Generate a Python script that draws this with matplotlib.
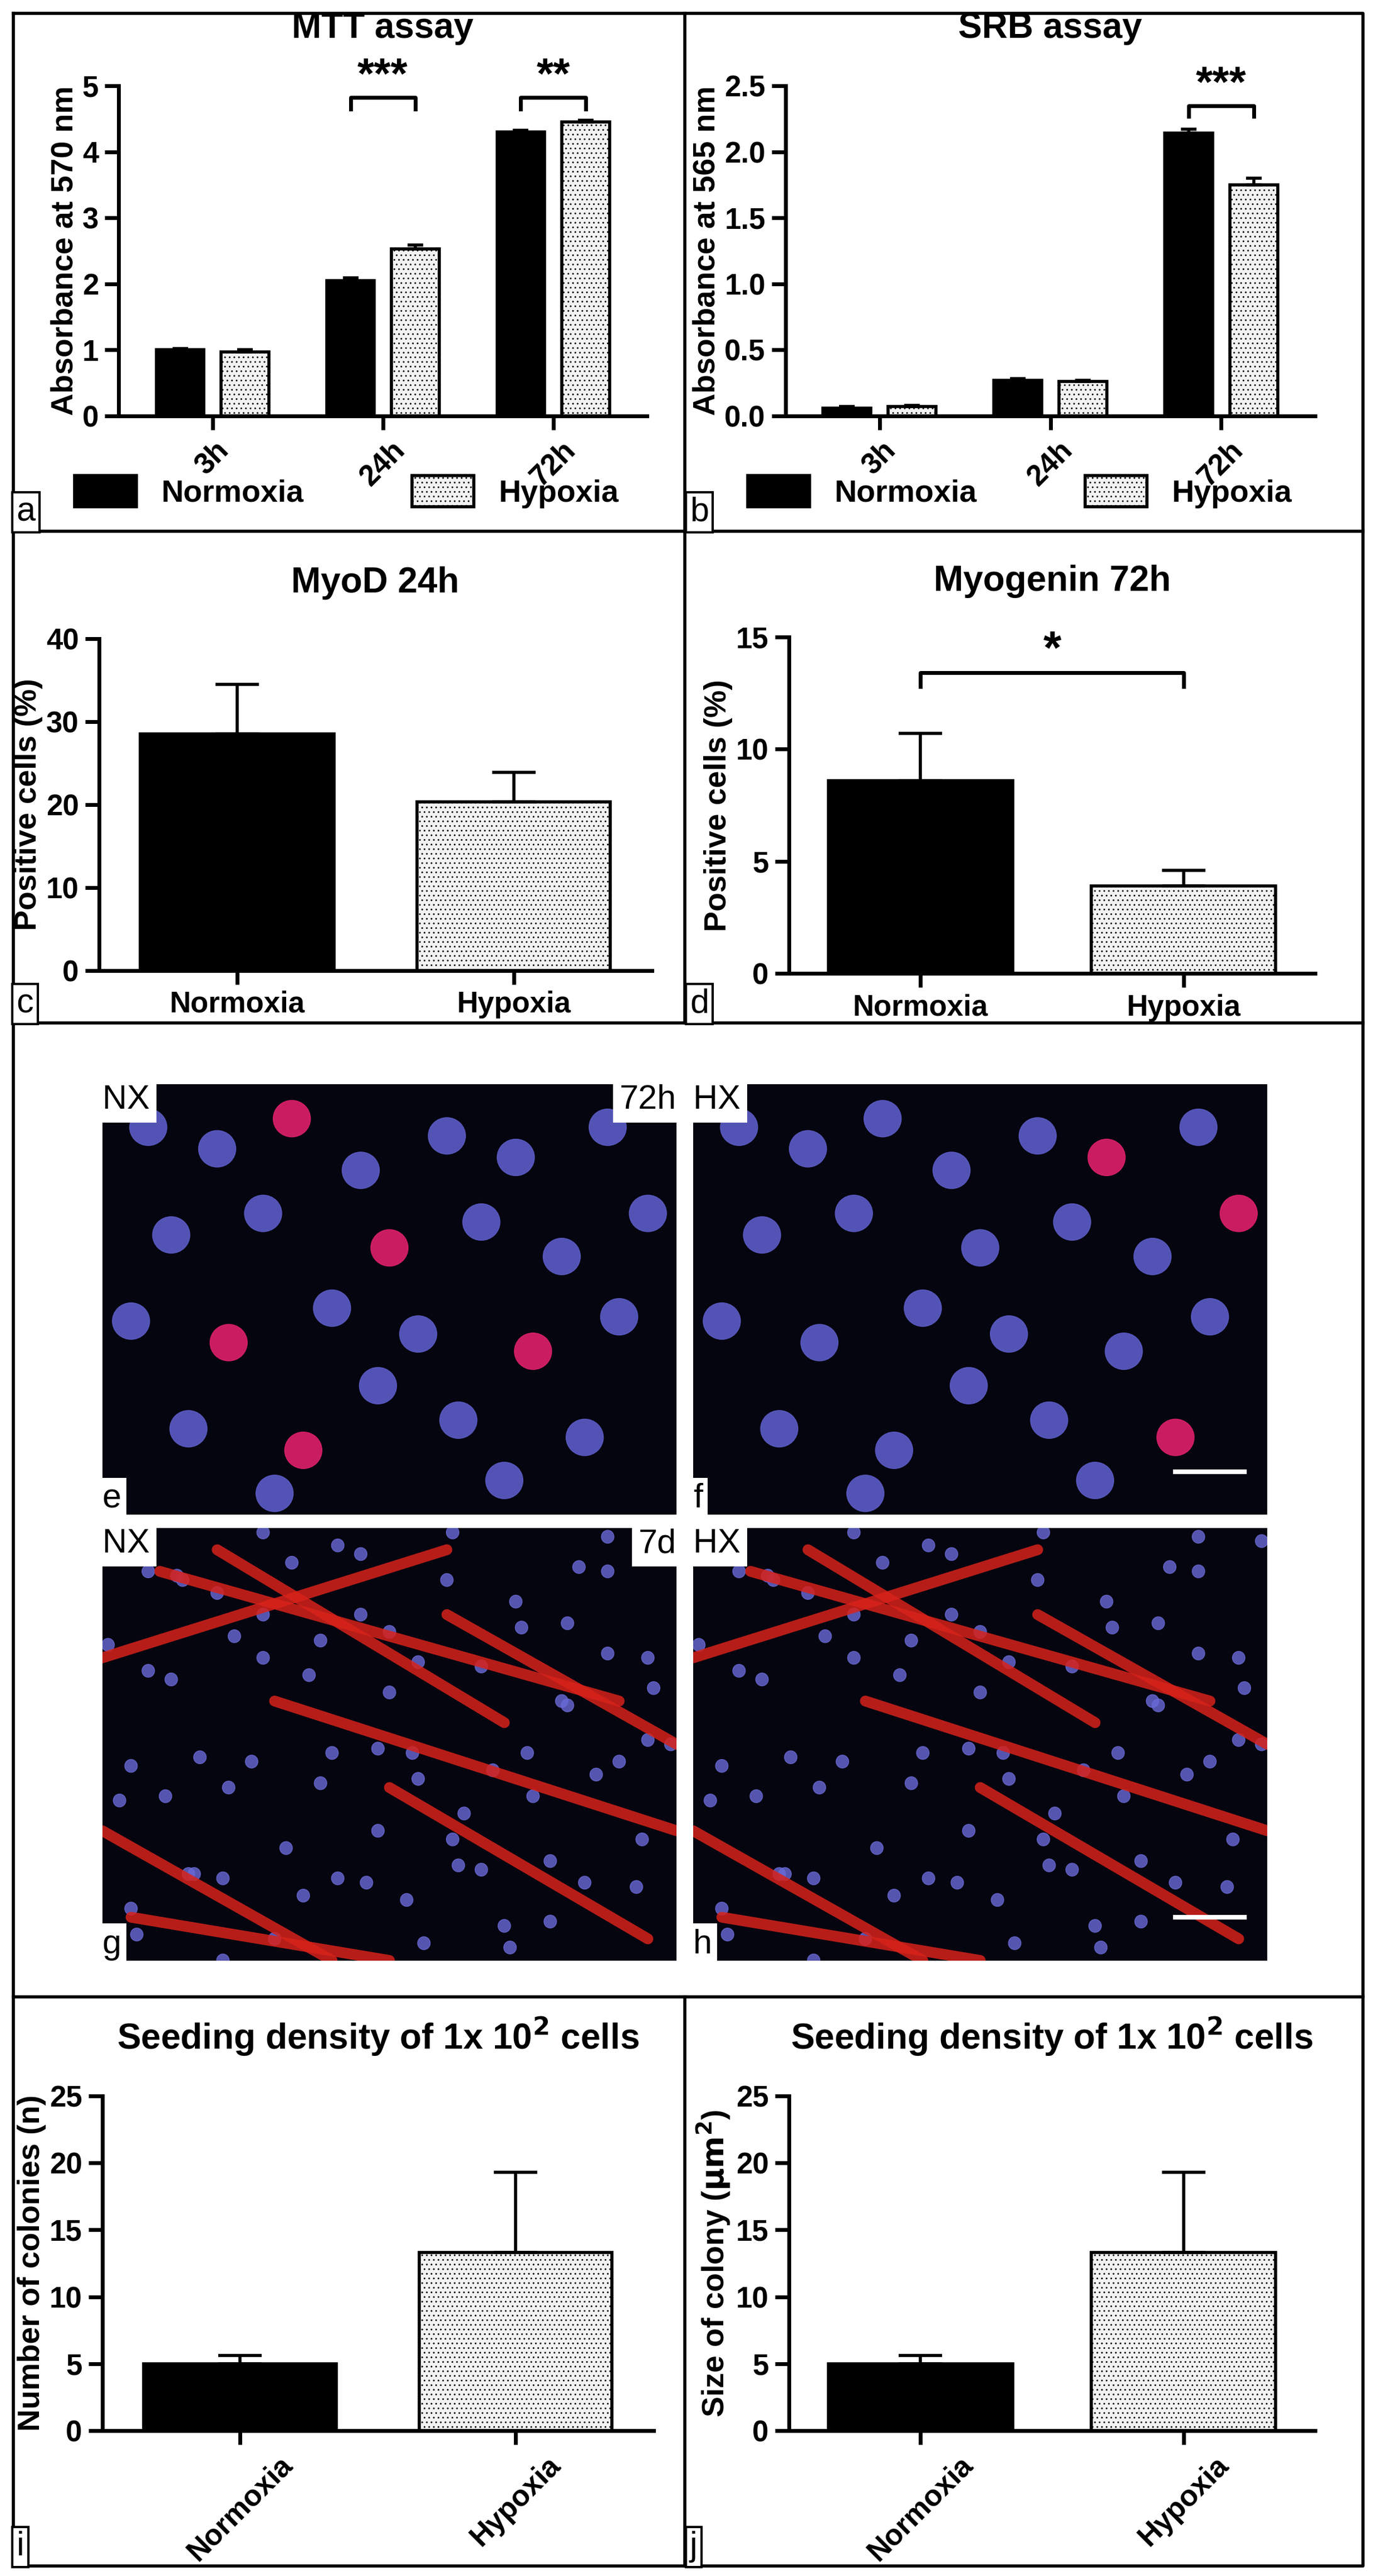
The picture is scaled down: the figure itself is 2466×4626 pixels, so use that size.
import matplotlib
matplotlib.use("Agg")
import matplotlib.pyplot as plt
from matplotlib.lines import Line2D
from matplotlib.patches import Ellipse, Patch
import numpy as np

plt.rcParams['font.family'] = ['Liberation Sans Narrow', 'Liberation Sans', 'DejaVu Sans']
plt.rcParams['font.weight'] = 'bold'
plt.rcParams['hatch.linewidth'] = 1.0
plt.rcParams['hatch.color'] = '#666666'

# ---------------- data ----------------
times = ['3h', '24h', '72h']
mtt_norm = [1.00, 2.05, 4.30]
mtt_norm_err = [0.02, 0.04, 0.03]
mtt_hyp = [0.97, 2.53, 4.45]
mtt_hyp_err = [0.03, 0.06, 0.03]
srb_norm = [0.06, 0.27, 2.14]
srb_norm_err = [0.01, 0.01, 0.03]
srb_hyp = [0.07, 0.26, 1.75]
srb_hyp_err = [0.01, 0.01, 0.05]
groups = ['Normoxia', 'Hypoxia']
myod = [28.5, 20.3]
myod_err = [6.0, 3.6]
myogenin = [8.6, 3.9]
myogenin_err = [2.1, 0.7]
colonies = [5.0, 13.3]
colonies_err = [0.6, 6.0]
colony_size = [5.0, 13.3]
colony_size_err = [0.6, 6.0]

W, H = 832.0, 1561.0
fig = plt.figure(figsize=(24.66, 46.26), dpi=100)

def rect(x0, x1, y0, y1):
    return [x0 / W, 1 - y1 / H, (x1 - x0) / W, (y1 - y0) / H]

def fline(xs, ys, lw=4):
    fig.add_artist(Line2D([x / W for x in xs], [1 - y / H for y in ys], color='black', lw=lw,
                          transform=fig.transFigure))

# borders
fline([8, 826, 826, 8, 8], [8, 8, 1555, 1555, 8])
for y in [322, 620, 1210]:
    fline([8, 826], [y, y])
fline([415, 415], [8, 620])
fline([415, 415], [1210, 1555])

def letter(x, y, s):
    fig.text(x / W, 1 - y / H, s, fontsize=44, fontweight='normal', ha='left', va='bottom',
             family='Liberation Sans',
             bbox=dict(boxstyle='square,pad=0.12', fc='white', ec='black', lw=3))

def style(ax):
    for sp in ['top', 'right']:
        ax.spines[sp].set_visible(False)
    for sp in ['left', 'bottom']:
        ax.spines[sp].set_linewidth(5)
    ax.tick_params(width=5, length=18, labelsize=38, pad=8)
    for t in ax.get_yticklabels() + ax.get_xticklabels():
        t.set_fontweight('bold')

def bracket(ax, x0, x1, y, h, txt, fs=56):
    ax.plot([x0, x0, x1, x1], [y - h, y, y, y - h], color='black', lw=5, clip_on=False)
    ax.text((x0 + x1) / 2, y, txt, ha='center', va='bottom', fontsize=fs, fontweight='bold')

def up(e):
    e = np.atleast_1d(e)
    return [np.zeros_like(e), e]

EK = dict(lw=4, capsize=10, capthick=4)

def grouped(ax, n, ne, hy, he, ylim, yticks, fmt, ylabel, title):
    x = np.arange(len(times))
    w = 0.28
    ax.bar(x - 0.19, n, w, yerr=up(ne), color='black', edgecolor='black', lw=4, error_kw=EK)
    ax.bar(x + 0.19, hy, w, yerr=up(he), color='#f2f2f2', edgecolor='black', lw=4, hatch='..', error_kw=EK)
    ax.set_xlim(-0.55, 2.55)
    ax.set_ylim(*ylim)
    ax.set_yticks(yticks)
    ax.set_yticklabels([fmt % v for v in yticks])
    ax.set_xticks(x)
    ax.set_xticklabels(times, rotation=45, ha='center', va='top')
    ax.set_ylabel(ylabel, fontsize=40, fontweight='bold')
    ax.set_title(title, fontsize=46, fontweight='bold', pad=62)
    style(ax)
    return x

# panel a
axa = fig.add_axes(rect(72, 392, 52, 252))
grouped(axa, mtt_norm, mtt_norm_err, mtt_hyp, mtt_hyp_err, (0, 5), [0, 1, 2, 3, 4, 5], '%d',
        'Absorbance at 570 nm', 'MTT assay')
bracket(axa, 1 - 0.19, 1 + 0.19, 4.82, 0.17, '***')
bracket(axa, 2 - 0.19, 2 + 0.19, 4.82, 0.17, '**')
# panel b
axb = fig.add_axes(rect(476, 797, 52, 252))
grouped(axb, srb_norm, srb_norm_err, srb_hyp, srb_hyp_err, (0, 2.5), [0, 0.5, 1.0, 1.5, 2.0, 2.5], '%.1f',
        'Absorbance at 565 nm', 'SRB assay')
bracket(axb, 2 - 0.19, 2 + 0.19, 2.35, 0.08, '***')

hN = Patch(facecolor='black', edgecolor='black', lw=4, label='Normoxia')
hH = Patch(facecolor='#f2f2f2', edgecolor='black', lw=4, hatch='..', label='Hypoxia')
for cx in [210, 618]:
    fig.legend(handles=[hN, hH], loc='center', bbox_to_anchor=(cx / W, 1 - 298 / H), ncol=2,
               frameon=False, handlelength=2.0, handleheight=1.2, columnspacing=3.5,
               prop=dict(weight='bold', size=40))
letter(10, 320, 'a')
letter(418, 320, 'b')

def two_bar(ax, vals, errs, ylim, yticks, ylabel, title, rot=0):
    x = np.arange(2)
    ek = dict(lw=4, capsize=28, capthick=4)
    ax.bar(x[0], vals[0], 0.7, yerr=up(errs[0]), color='black', edgecolor='black', lw=4, error_kw=ek)
    ax.bar(x[1], vals[1], 0.7, yerr=up(errs[1]), color='#f2f2f2', edgecolor='black', lw=4, hatch='..',
           error_kw=ek)
    ax.set_xlim(-0.5, 1.5)
    ax.set_ylim(*ylim)
    ax.set_yticks(yticks)
    ax.set_xticks(x)
    if rot:
        ax.set_xticklabels(groups, rotation=rot, ha='center', va='top')
    else:
        ax.set_xticklabels(groups)
    ax.set_ylabel(ylabel, fontsize=40, fontweight='bold')
    ax.set_title(title, fontsize=46, fontweight='bold', pad=60)
    style(ax)

axc = fig.add_axes(rect(60, 395, 387, 588))
two_bar(axc, myod, myod_err, (0, 40), [0, 10, 20, 30, 40], 'Positive cells (%)', 'MyoD 24h')
axd = fig.add_axes(rect(478, 797, 386, 590))
two_bar(axd, myogenin, myogenin_err, (0, 15), [0, 5, 10, 15], 'Positive cells (%)', 'Myogenin 72h')
bracket(axd, 0, 1, 13.4, 0.6, '*', fs=60)
letter(10, 618, 'c')
letter(418, 618, 'd')

# microscopy panels (schematic)
nuc_x = [0.08, 0.2, 0.33, 0.45, 0.6, 0.72, 0.88, 0.12, 0.28, 0.5, 0.66, 0.8, 0.95, 0.05, 0.22, 0.4,
         0.55, 0.75, 0.9, 0.15, 0.35, 0.62, 0.84, 0.3, 0.48, 0.7]
nuc_y = [0.9, 0.85, 0.92, 0.8, 0.88, 0.83, 0.9, 0.65, 0.7, 0.62, 0.68, 0.6, 0.7, 0.45, 0.4, 0.48,
         0.42, 0.38, 0.46, 0.2, 0.15, 0.22, 0.18, 0.05, 0.3, 0.08]
red_e = [2, 9, 14, 17, 20]
red_f = [5, 12, 22]
fib_x0 = [0.0, 0.1, 0.3, 0.5, 0.0, 0.2, 0.6, 0.05]
fib_y0 = [0.7, 0.9, 0.6, 0.4, 0.3, 0.95, 0.8, 0.1]
fib_x1 = [0.6, 0.9, 1.0, 0.95, 0.4, 0.7, 1.0, 0.5]
fib_y1 = [0.95, 0.6, 0.3, 0.05, 0.0, 0.55, 0.5, 0.0]

def micro(r, reds, fibers, tl, tr, lab, scale):
    ax = fig.add_axes(rect(*r))
    ax.set_facecolor('#05050f')
    ax.set_xlim(0, 1); ax.set_ylim(0, 1)
    ax.set_xticks([]); ax.set_yticks([])
    for sp in ax.spines.values():
        sp.set_visible(False)
    if fibers:
        for a, b, c, d in zip(fib_x0, fib_y0, fib_x1, fib_y1):
            ax.plot([a, c], [b, d], color='#d8221a', lw=14, alpha=0.85, solid_capstyle='round')
        for i in range(len(nuc_x)):
            for k in range(3):
                ax.add_patch(Ellipse(((nuc_x[i] + k * 0.33) % 1, (nuc_y[i] + k * 0.29) % 1), 0.022, 0.03,
                                     color='#6a6ad8', alpha=0.8))
    else:
        for i, (a, b) in enumerate(zip(nuc_x, nuc_y)):
            c = '#e0206a' if i in reds else '#5c5cc8'
            ax.add_patch(Ellipse((a, b), 0.065, 0.085, color=c, alpha=0.9))
    ax.text(0.0, 1.0, tl, transform=ax.transAxes, ha='left', va='top', fontsize=44, fontweight='normal',
            family='Liberation Sans', bbox=dict(boxstyle='square,pad=0.2', fc='white', ec='none'))
    if tr:
        ax.text(1.0, 1.0, tr, transform=ax.transAxes, ha='right', va='top', fontsize=44, fontweight='normal',
                family='Liberation Sans', bbox=dict(boxstyle='square,pad=0.2', fc='white', ec='none'))
    ax.text(0.0, 0.0, lab, transform=ax.transAxes, ha='left', va='bottom', fontsize=44, fontweight='normal',
            family='Liberation Sans', bbox=dict(boxstyle='square,pad=0.15', fc='white', ec='none'))
    if scale:
        ax.plot([0.84, 0.96], [0.1, 0.1], color='white', lw=6)

micro((62, 410, 657, 918), red_e, False, 'NX', '72h', 'e', False)
micro((420, 768, 657, 918), red_f, False, 'HX', None, 'f', True)
micro((62, 410, 926, 1188), [], True, 'NX', '7d', 'g', False)
micro((420, 768, 926, 1188), [], True, 'HX', None, 'h', True)

title_ij = r'Seeding density of 1x 10$^{\mathbf{2}}$ cells'
axi = fig.add_axes(rect(62, 396, 1270, 1473))
two_bar(axi, colonies, colonies_err, (0, 25), [0, 5, 10, 15, 20, 25], 'Number of colonies (n)', title_ij, rot=45)
axj = fig.add_axes(rect(478, 797, 1270, 1473))
two_bar(axj, colony_size, colony_size_err, (0, 25), [0, 5, 10, 15, 20, 25], r'Size of colony ($\mathbf{\mu m^2}$)',
        title_ij, rot=45)
letter(10, 1553, 'i')
letter(418, 1553, 'j')

fig.savefig('out.png', dpi=100, facecolor='white')
